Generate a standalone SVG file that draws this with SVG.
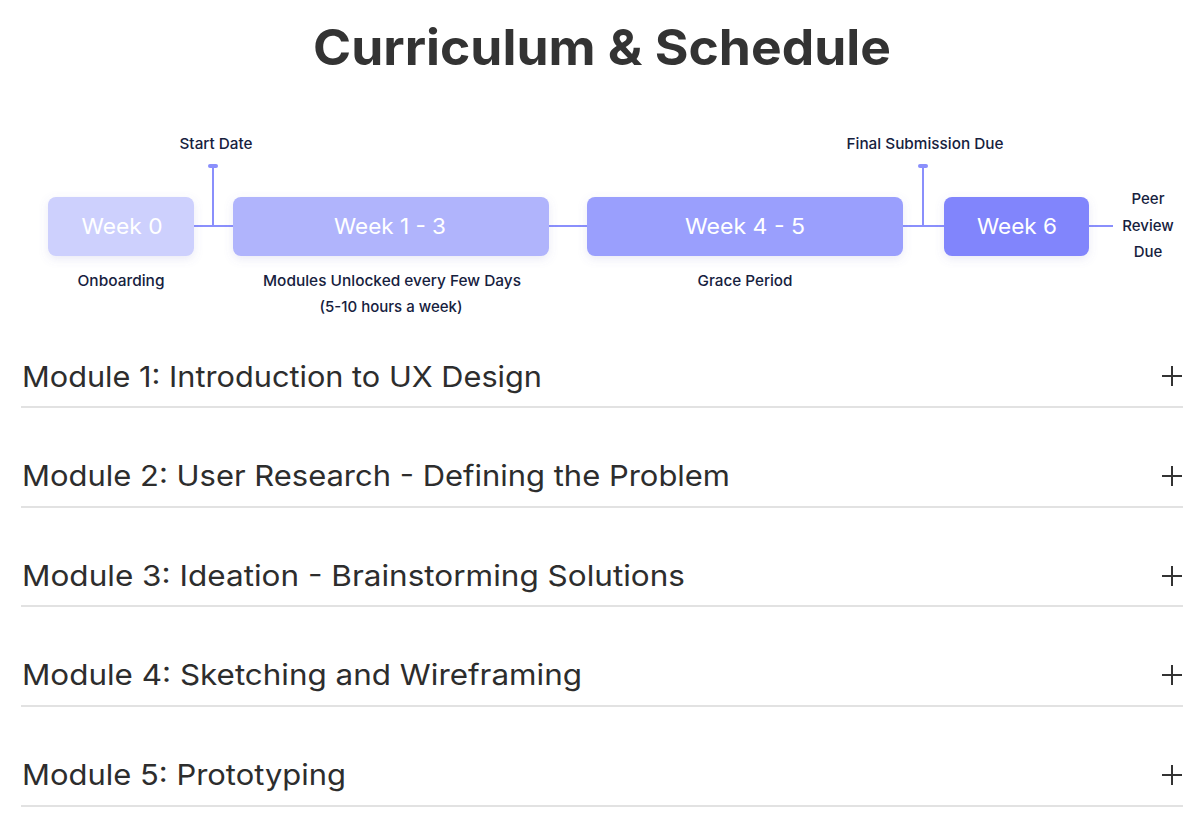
<svg xmlns="http://www.w3.org/2000/svg" width="1200" height="819" viewBox="0 0 1200 819">
<defs>
<filter id="sh" x="-20%" y="-40%" width="140%" height="180%">
<feDropShadow dx="0" dy="3" stdDeviation="5" flood-color="#6c70c0" flood-opacity="0.15"/>
</filter>
<style>
.title{font-family:Inter,"Noto Sans","Liberation Sans",sans-serif;font-weight:700;font-size:50px;fill:#333333;}
.lbl{font-family:Inter,"Noto Sans","Liberation Sans",sans-serif;font-size:15px;fill:#16213e;font-weight:500;}
.wk{font-family:Inter,"Noto Sans","Liberation Sans",sans-serif;font-size:22px;fill:#ffffff;font-weight:400;}
.mod{font-family:Inter,"Noto Sans","Liberation Sans",sans-serif;font-size:29px;fill:#2d2d2d;}
.tl{stroke:#8a8ffc;stroke-width:2;fill:none;}
.sep{stroke:#d9d9d9;stroke-width:1.5;}
.plus{stroke:#333333;stroke-width:2;}
</style>
</defs>
<rect width="1200" height="819" fill="#ffffff"/>
<text class="title" x="602" y="65" text-anchor="middle" textLength="578" lengthAdjust="spacingAndGlyphs">Curriculum &amp; Schedule</text>

<g id="connectors">
<line class="tl" x1="194" y1="226" x2="233" y2="226"/>
<line class="tl" x1="549" y1="226" x2="587" y2="226"/>
<line class="tl" x1="903" y1="226" x2="944" y2="226"/>
<line class="tl" x1="1089" y1="226" x2="1113" y2="226"/>
<line class="tl" x1="213" y1="166" x2="213" y2="226"/>
<rect x="208" y="164" width="10" height="4" rx="2" fill="#8a8ffc"/>
<line class="tl" x1="923" y1="166" x2="923" y2="226"/>
<rect x="918" y="164" width="10" height="4" rx="2" fill="#8a8ffc"/>
</g>

<g id="start-date"><text class="lbl" x="216" y="149" text-anchor="middle" textLength="73" lengthAdjust="spacingAndGlyphs">Start Date</text></g>
<g id="final-submission"><text class="lbl" x="925" y="149" text-anchor="middle" textLength="157" lengthAdjust="spacingAndGlyphs">Final Submission Due</text></g>

<g id="week0">
<rect x="48" y="197" width="146" height="59" rx="8" fill="#cdd0fd" filter="url(#sh)"/>
<text class="wk" x="122" y="234" text-anchor="middle" textLength="81" lengthAdjust="spacingAndGlyphs">Week 0</text>
<text class="lbl" x="121" y="286" text-anchor="middle" textLength="87" lengthAdjust="spacingAndGlyphs">Onboarding</text>
</g>
<g id="week1-3">
<rect x="233" y="197" width="316" height="59" rx="8" fill="#b0b4fc" filter="url(#sh)"/>
<text class="wk" x="390" y="234" text-anchor="middle" textLength="112" lengthAdjust="spacingAndGlyphs">Week 1 - 3</text>
<text class="lbl" x="392" y="286" text-anchor="middle" textLength="258" lengthAdjust="spacingAndGlyphs">Modules Unlocked every Few Days</text>
<text class="lbl" x="391" y="312" text-anchor="middle" textLength="143" lengthAdjust="spacingAndGlyphs">(5-10 hours a week)</text>
</g>
<g id="week4-5">
<rect x="587" y="197" width="316" height="59" rx="8" fill="#9a9ffd" filter="url(#sh)"/>
<text class="wk" x="745" y="234" text-anchor="middle" textLength="120" lengthAdjust="spacingAndGlyphs">Week 4 - 5</text>
<text class="lbl" x="745" y="286" text-anchor="middle" textLength="95" lengthAdjust="spacingAndGlyphs">Grace Period</text>
</g>
<g id="week6">
<rect x="944" y="197" width="145" height="59" rx="8" fill="#8185fc" filter="url(#sh)"/>
<text class="wk" x="1017" y="234" text-anchor="middle" textLength="80" lengthAdjust="spacingAndGlyphs">Week 6</text>
</g>
<g id="peer-review">
<text class="lbl" x="1148" y="204" text-anchor="middle">Peer</text>
<text class="lbl" x="1148" y="231" text-anchor="middle">Review</text>
<text class="lbl" x="1148" y="257" text-anchor="middle">Due</text>
</g>

<g id="module1">
<text class="mod" x="22" y="387" textLength="520" lengthAdjust="spacingAndGlyphs">Module 1: Introduction to UX Design</text>
<line class="plus" x1="1162" y1="376" x2="1182" y2="376"/><line class="plus" x1="1172" y1="366" x2="1172" y2="386"/>
<line class="sep" x1="21" y1="407" x2="1183" y2="407"/>
</g>
<g id="module2">
<text class="mod" x="22" y="486" textLength="708" lengthAdjust="spacingAndGlyphs">Module 2: User Research - Defining the Problem</text>
<line class="plus" x1="1162" y1="476" x2="1182" y2="476"/><line class="plus" x1="1172" y1="466" x2="1172" y2="486"/>
<line class="sep" x1="21" y1="507" x2="1183" y2="507"/>
</g>
<g id="module3">
<text class="mod" x="22" y="586" textLength="663" lengthAdjust="spacingAndGlyphs">Module 3: Ideation - Brainstorming Solutions</text>
<line class="plus" x1="1162" y1="576" x2="1182" y2="576"/><line class="plus" x1="1172" y1="566" x2="1172" y2="586"/>
<line class="sep" x1="21" y1="606" x2="1183" y2="606"/>
</g>
<g id="module4">
<text class="mod" x="22" y="685" textLength="560" lengthAdjust="spacingAndGlyphs">Module 4: Sketching and Wireframing</text>
<line class="plus" x1="1162" y1="675" x2="1182" y2="675"/><line class="plus" x1="1172" y1="665" x2="1172" y2="685"/>
<line class="sep" x1="21" y1="706" x2="1183" y2="706"/>
</g>
<g id="module5">
<text class="mod" x="22" y="785" textLength="324" lengthAdjust="spacingAndGlyphs">Module 5: Prototyping</text>
<line class="plus" x1="1162" y1="775" x2="1182" y2="775"/><line class="plus" x1="1172" y1="765" x2="1172" y2="785"/>
<line class="sep" x1="21" y1="806" x2="1183" y2="806"/>
</g>
</svg>
